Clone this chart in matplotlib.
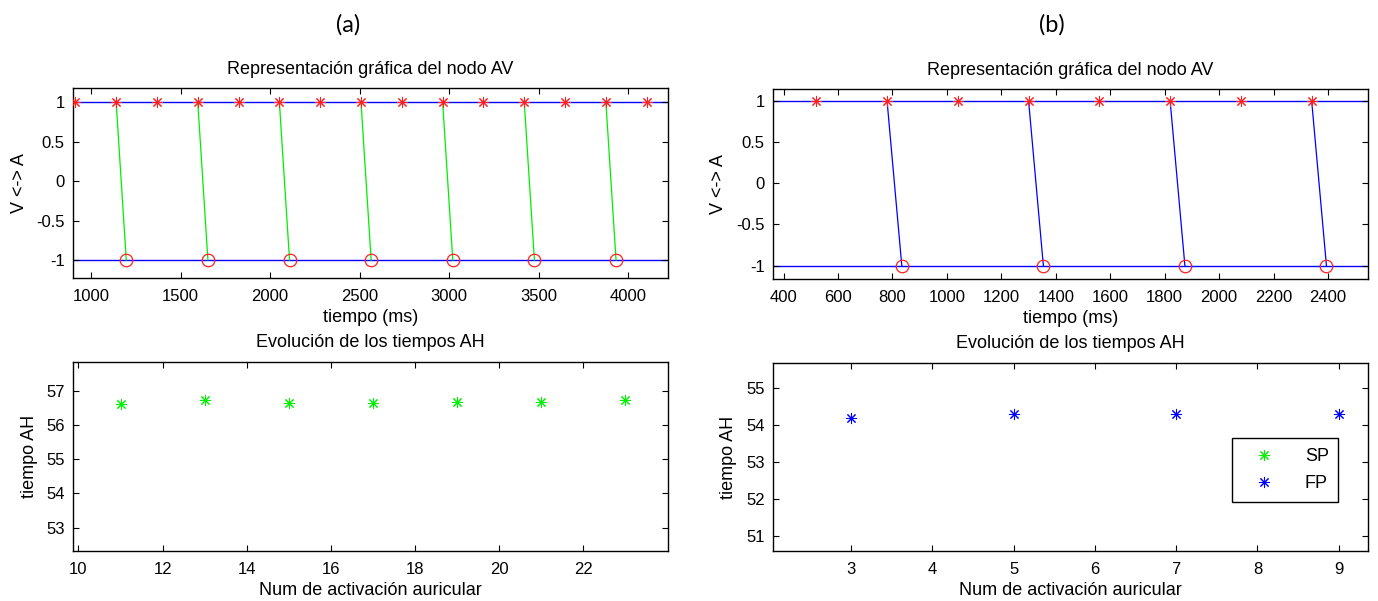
import numpy as np
import matplotlib.pyplot as plt

plt.rcParams['font.family'] = ['Liberation Sans', 'DejaVu Sans']
plt.rcParams['axes.unicode_minus'] = False

# Data panel (a): via lenta (SP)
t_aur_a = [912, 1140, 1368, 1596, 1824, 2052, 2280, 2508, 2736, 2964, 3192, 3420, 3648, 3876, 4104]
t_cond_a = [1140, 1596, 2052, 2508, 2964, 3420, 3876]
ah_a = [56.61, 56.73, 56.64, 56.64, 56.68, 56.68, 56.72]
num_act_a = [11, 13, 15, 17, 19, 21, 23]

# Data panel (b): via rapida (FP)
t_aur_b = [520, 780, 1040, 1300, 1560, 1820, 2080, 2340]
t_cond_b = [780, 1300, 1820, 2340]
ah_b = [54.20, 54.32, 54.32, 54.32]
num_act_b = [3, 5, 7, 9]

niveles = [1, -1]  # A = 1, V = -1

W, H = 1378, 601
fig = plt.figure(figsize=(W / 100, H / 100), dpi=100)


def axes_px(left, top, right, bottom):
    return fig.add_axes([left / W, 1 - bottom / H, (right - left) / W, (bottom - top) / H])


def estilo(ax):
    ax.tick_params(direction='in', top=True, right=True, length=4, width=0.8, labelsize=12)
    ax.tick_params(axis='x', pad=8)
    ax.tick_params(axis='y', pad=6)
    for s in ax.spines.values():
        s.set_linewidth(1.0)


ast = (8, 2, 0)
verde = '#00ee00'
rojo = '#ff2020'


def nodo_av(ax, t_aur, t_cond, ah, color_cond, xlim, ylim, xticks):
    for y in niveles:
        ax.axhline(y, color='blue', lw=1.0, zorder=1)
    t_v = np.array(t_cond) + np.array(ah)
    for ta, tv in zip(t_cond, t_v):
        ax.plot([ta, tv], [niveles[0], niveles[1]], color=color_cond, lw=0.9, zorder=2)
    ax.plot(t_aur, [niveles[0]] * len(t_aur), ls='none', marker=ast, ms=8, mec=rojo, mew=0.75, zorder=3)
    ax.plot(t_v, [niveles[1]] * len(t_v), ls='none', marker='o', ms=9, mfc='none', mec=rojo, mew=0.9, zorder=3)
    ax.set_xlim(xlim)
    ax.set_ylim(ylim)
    ax.set_xticks(xticks)
    ax.set_yticks([-1, -0.5, 0, 0.5, 1])
    ax.set_yticklabels(['-1', '-0.5', '0', '0.5', '1'])
    ax.set_xlabel('tiempo (ms)', fontsize=13)
    ax.xaxis.set_label_coords(0.5, -0.163)
    ax.set_ylabel('V <-> A', fontsize=13)
    ax.text(0.5, 1.095, 'Representación gráfica del nodo AV', transform=ax.transAxes,
            ha='center', va='center', fontsize=13)
    estilo(ax)


def tiempos_ah(ax, xlim, ylim, xticks, yticks):
    ax.set_xlim(xlim)
    ax.set_ylim(ylim)
    ax.set_xticks(xticks)
    ax.set_yticks(yticks)
    ax.set_xlabel('Num de activación auricular', fontsize=13)
    ax.xaxis.set_label_coords(0.5, -0.165)
    ax.set_ylabel('tiempo AH', fontsize=13)
    ax.text(0.5, 1.105, 'Evolución de los tiempos AH', transform=ax.transAxes,
            ha='center', va='center', fontsize=13)
    estilo(ax)


# (a)
ax1 = axes_px(73, 88, 668, 278)
nodo_av(ax1, t_aur_a, t_cond_a, ah_a, verde, (899, 4223), (-1.228, 1.18), np.arange(1000, 4001, 500))
ax1.yaxis.set_label_coords(-0.075, 0.5)

ax3 = axes_px(73, 362, 668, 551)
ax3.plot(num_act_a, ah_a, ls='none', marker=ast, ms=8, mec=verde, mew=0.75)
tiempos_ah(ax3, (9.87, 24.02), (52.32, 57.84), range(10, 23, 2), range(53, 58))
ax3.yaxis.set_label_coords(-0.059, 0.5)

# (b)
ax2 = axes_px(773, 89, 1368, 279)
nodo_av(ax2, t_aur_b, t_cond_b, ah_b, 'blue', (361, 2547), (-1.161, 1.142), np.arange(400, 2401, 200))
ax2.yaxis.set_label_coords(-0.078, 0.5)

ax4 = axes_px(773, 363, 1368, 551)
ax4.plot([], [], ls='none', marker=ast, ms=8, mec=verde, mew=0.75, label='SP')
ax4.plot(num_act_b, ah_b, ls='none', marker=ast, ms=8, mec='blue', mew=0.75, label='FP')
tiempos_ah(ax4, (2.04, 9.36), (50.59, 55.69), range(3, 10), range(51, 56))
ax4.yaxis.set_label_coords(-0.06, 0.5)
leg = ax4.legend(loc='lower left', bbox_to_anchor=(0.771, 0.26, 0.179, 0.31), mode='expand',
                 borderaxespad=0, fontsize=13, fancybox=False, framealpha=1, edgecolor='black',
                 handlelength=2.5, handletextpad=1.0, borderpad=0.55, labelspacing=0.55)
leg.get_frame().set_linewidth(1.0)

fig.text(348 / W, 1 - 25 / H, '(a)', ha='center', va='center', fontsize=17, family='Lato')
fig.text(1052 / W, 1 - 25 / H, '(b)', ha='center', va='center', fontsize=17, family='Lato')

fig.savefig('out.png', dpi=100)
